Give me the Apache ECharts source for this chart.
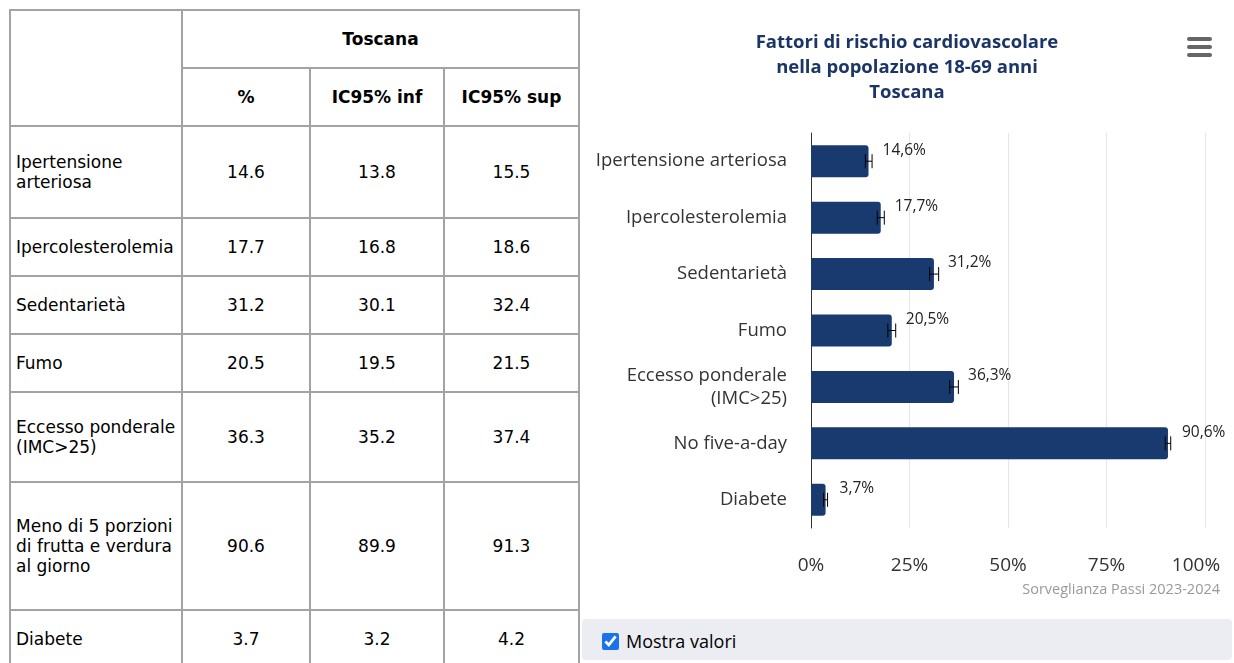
<!DOCTYPE html>
<html>
<head>
<meta charset="utf-8">
<script src="https://cdn.jsdelivr.net/npm/echarts@6/dist/echarts.min.js"></script>
<style>
  body { margin: 0; background: #fff; width: 1234px; height: 663px; overflow: hidden; position: relative; }
  #tab { position: absolute; left: 9px; top: 9px; border-collapse: collapse; table-layout: fixed; width: 571px;
         font-family: "DejaVu Sans", Verdana, sans-serif; font-size: 17px; color: #000; }
  #tab td, #tab th { border: 2px solid #a3a3a3; padding: 0 5px; }
  #tab th { font-weight: bold; text-align: center; }
  #tab td.num { text-align: center; }
  #chart { position: absolute; left: 580px; top: 0; width: 654px; height: 612px; }
  #opts { position: absolute; left: 582px; top: 619px; width: 650px; height: 41px; background: #ececf3; border-radius: 4px;
          font-family: "Open Sans", "Noto Sans", sans-serif; font-size: 18px; color: #000; }
  #opts label { position: absolute; left: 20px; top: 10px; }
  #opts input { margin: 0 7px 0 0; width: 17px; height: 17px; vertical-align: -2px; accent-color: #1a73e8; }
</style>
</head>
<body>
<table id="tab"></table>
<div id="chart"></div>
<div id="opts"><label><input type="checkbox" checked>Mostra valori</label></div>
<script>
// dati Toscana, Sorveglianza Passi 2023-2024
var tableNames = ['Ipertensione arteriosa', 'Ipercolesterolemia', 'Sedentarietà', 'Fumo',
  'Eccesso ponderale (IMC>25)', 'Meno di 5 porzioni di frutta e verdura al giorno', 'Diabete'];
var chartNames = ['Ipertensione arteriosa', 'Ipercolesterolemia', 'Sedentarietà', 'Fumo',
  'Eccesso ponderale\n(IMC>25)', 'No five-a-day', 'Diabete'];
var pct = [14.6, 17.7, 31.2, 20.5, 36.3, 90.6, 3.7];
var icInf = [13.8, 16.8, 30.1, 19.5, 35.2, 89.9, 3.2];
var icSup = [15.5, 18.6, 32.4, 21.5, 37.4, 91.3, 4.2];

// altezze righe della tabella
var rowH = [92, 58, 58, 58, 90, 128, 58];
var colW = [172, 128, 134, 135];

var tab = document.getElementById('tab');
var html = '<colgroup>';
colW.forEach(function (w) { html += '<col style="width:' + w + 'px">'; });
html += '</colgroup>';
html += '<tr style="height:58px"><th rowspan="2"></th><th colspan="3">Toscana</th></tr>';
html += '<tr style="height:58px"><th>%</th><th>IC95% inf</th><th>IC95% sup</th></tr>';
for (var i = 0; i < tableNames.length; i++) {
  html += '<tr style="height:' + rowH[i] + 'px"><td>' + tableNames[i].replace('>', '&gt;') + '</td>' +
    '<td class="num">' + pct[i].toFixed(1) + '</td>' +
    '<td class="num">' + icInf[i].toFixed(1) + '</td>' +
    '<td class="num">' + icSup[i].toFixed(1) + '</td></tr>';
}
tab.innerHTML = html;

var chart = echarts.init(document.getElementById('chart'));
var errData = pct.map(function (v, i) { return [i, icInf[i], icSup[i]]; });

chart.setOption({
  animation: false,
  textStyle: { fontFamily: 'Open Sans, Noto Sans, sans-serif' },
  title: {
    text: 'Fattori di rischio cardiovascolare\nnella popolazione 18-69 anni\nToscana',
    left: 'center', top: 25,
    textStyle: { fontSize: 18.5, fontWeight: 'bold', color: '#1b3566', lineHeight: 25, fontFamily: 'Open Sans, sans-serif' }
  },
  graphic: [
    { type: 'rect', shape: { x: 607, y: 37, width: 25, height: 4, r: 2 }, style: { fill: '#666' } },
    { type: 'rect', shape: { x: 607, y: 45, width: 25, height: 4, r: 2 }, style: { fill: '#666' } },
    { type: 'rect', shape: { x: 607, y: 53, width: 25, height: 4, r: 2 }, style: { fill: '#666' } },
    { type: 'text', right: 14, top: 582, style: { text: 'Sorveglianza Passi 2023-2024', fill: '#999', fontSize: 14.5, fontFamily: 'Open Sans, sans-serif' } }
  ],
  grid: { left: 231, right: 29, top: 133, bottom: 84 },
  xAxis: {
    type: 'value', min: 0, max: 100, interval: 25,
    axisLine: { show: false }, axisTick: { show: false },
    splitLine: { lineStyle: { color: '#e6e6e6' } },
    axisLabel: {
      color: '#333', fontSize: 19, margin: 28,
      formatter: function (v) { return v === 100 ? '{m|100%}' : v + '%'; },
      rich: { m: { fontSize: 19, color: '#333', padding: [0, 18, 0, 0] } }
    }
  },
  yAxis: {
    type: 'category', data: chartNames, inverse: true,
    axisLine: { lineStyle: { color: '#333', width: 1 } }, axisTick: { show: false },
    axisLabel: { color: '#333', fontSize: 18.5, margin: 24, lineHeight: 23 }
  },
  series: [
    {
      type: 'bar', data: pct, barWidth: 32,
      itemStyle: { color: '#193a6e', borderRadius: [0, 3, 3, 0] },
      label: {
        show: true, position: 'right', distance: 0, offset: [14, -11],
        color: '#222', fontSize: 15.5,
        formatter: function (p) { return p.value.toFixed(1).replace('.', ',') + '%'; }
      }
    },
    {
      type: 'custom', data: errData, z: 5,
      encode: { x: [1, 2], y: 0 },
      renderItem: function (params, api) {
        var y = api.value(0);
        var a = api.coord([api.value(1), y]);
        var b = api.coord([api.value(2), y]);
        var h = 7;
        var st = { stroke: '#000', lineWidth: 1 };
        return {
          type: 'group', children: [
            { type: 'line', shape: { x1: a[0], y1: a[1], x2: b[0], y2: b[1] }, style: st },
            { type: 'line', shape: { x1: a[0], y1: a[1] - h, x2: a[0], y2: a[1] + h }, style: st },
            { type: 'line', shape: { x1: b[0], y1: b[1] - h, x2: b[0], y2: b[1] + h }, style: st }
          ]
        };
      }
    }
  ]
});
</script>
</body>
</html>
